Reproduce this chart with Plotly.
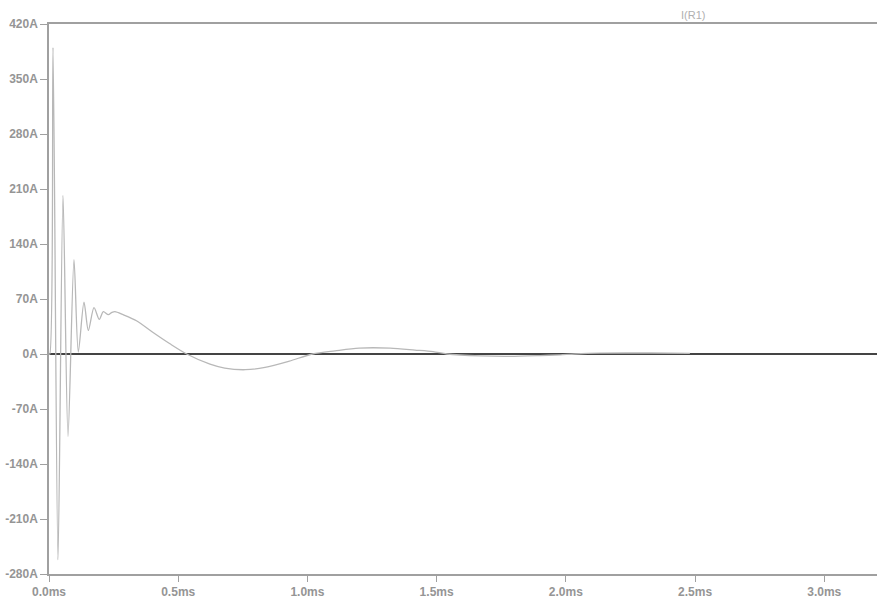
import plotly.graph_objects as go

# time in ms, current in A
t_ms = [0.0, 0.003, 0.0155, 0.0348, 0.0542, 0.0735, 0.0967, 0.1134, 0.1354, 0.1521,
        0.1741, 0.1947, 0.2101, 0.2295, 0.2438, 0.2554, 0.287, 0.34, 0.40, 0.468,
        0.533, 0.623, 0.68, 0.76, 0.836, 0.93, 1.02, 1.107, 1.2, 1.32,
        1.416, 1.486, 1.54, 1.668, 1.784, 1.90, 1.978, 2.035, 2.13, 2.326, 2.48]
i_amp = [0.0, 0.0, 390, -262, 202, -105, 120, 2.5, 66, 30,
         59, 44, 54, 50, 53, 54, 50, 42, 28, 13,
         0, -13, -18, -20, -17, -9, 0, 4, 7.5, 7.5,
         5, 3, 0, -2.5, -3, -2, -1, 0, 1, 1.3, 0.8]

x_ticks = [0.0, 0.5, 1.0, 1.5, 2.0, 2.5, 3.0]
x_labels = ["0.0ms", "0.5ms", "1.0ms", "1.5ms", "2.0ms", "2.5ms", "3.0ms"]
y_ticks = [-280, -210, -140, -70, 0, 70, 140, 210, 280, 350, 420]
y_labels = ["-280A", "-210A", "-140A", "-70A", "0A", "70A", "140A", "210A", "280A", "350A", "420A"]
trace_name = "I(R1)"

fig = go.Figure()
fig.add_trace(go.Scatter(x=t_ms, y=i_amp, mode="lines", name=trace_name,
                         line=dict(color="#b8b8b8", width=1.3, shape="spline", smoothing=0.8)))

tick_font = dict(family="Liberation Sans, Arial, sans-serif", size=12, color="#959595", weight="bold")

fig.update_layout(
    width=877, height=599,
    margin=dict(l=49, r=0, t=24, b=17),
    paper_bgcolor="white", plot_bgcolor="white",
    showlegend=False,
    xaxis=dict(range=[0, 3.204], tickvals=x_ticks, ticktext=x_labels,
               showgrid=False, zeroline=False, showline=True, mirror=True,
               linecolor="#a0a0a0", linewidth=1.5, ticks="outside", ticklen=6,
               tickcolor="#a0a0a0", tickfont=tick_font),
    yaxis=dict(range=[-280, 420], tickvals=y_ticks, ticktext=y_labels,
               showgrid=False, zeroline=True, zerolinecolor="#444444", zerolinewidth=1.5,
               showline=True, mirror=False, linecolor="#a0a0a0", linewidth=1.5, ticks="outside",
               ticklen=7, tickcolor="#a0a0a0", tickfont=tick_font),
    annotations=[dict(text=trace_name, xref="paper", yref="paper", x=(693 - 49) / 828, y=1.0,
                      xanchor="center", yanchor="bottom", yshift=1, showarrow=False,
                      font=dict(family="Liberation Sans, Arial, sans-serif", size=11, color="#b0b0b0"))],
)

fig.write_html("out.html")
